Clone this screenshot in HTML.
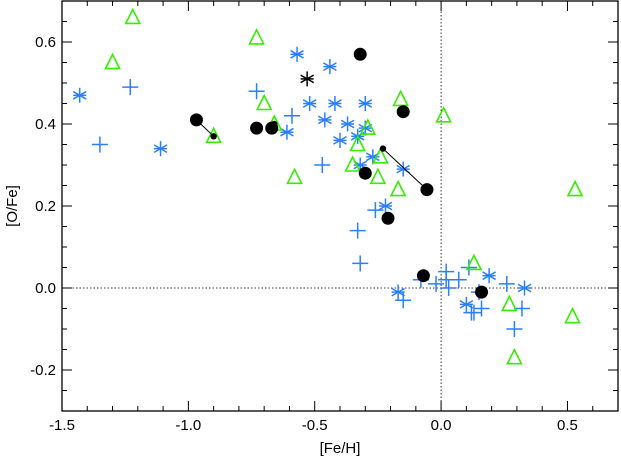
<!DOCTYPE html>
<html><head><meta charset="utf-8"><style>
body{margin:0;background:#fff}
svg text{font-family:"Liberation Sans",sans-serif;font-size:15px;fill:#000}
</style></head><body>
<svg id="chart" width="621" height="458" xmlns="http://www.w3.org/2000/svg"></svg>
<script>
const circlesX=[-0.968,-0.73,-0.67,-0.32,-0.15,-0.30,-0.056,-0.21,-0.07,0.16];
const circlesY=[0.41,0.39,0.39,0.57,0.43,0.28,0.24,0.17,0.03,-0.01];
const dotsX=[-0.90,-0.66,-0.23];
const dotsY=[0.37,0.40,0.34];
const linksFrom=[[-0.968,0.41],[-0.23,0.34]];
const linksTo=[[-0.90,0.37],[-0.056,0.24]];
const blackStarX=[-0.53];
const blackStarY=[0.51];
const triX=[-1.22,-1.30,-0.90,-0.73,-0.70,-0.66,-0.58,-0.35,-0.33,-0.29,-0.25,-0.24,-0.16,-0.17,0.01,0.13,0.27,0.29,0.52,0.53];
const triY=[0.66,0.55,0.37,0.61,0.45,0.40,0.27,0.30,0.35,0.39,0.27,0.32,0.46,0.24,0.42,0.06,-0.04,-0.17,-0.07,0.24];
const starX=[-1.43,-1.11,-0.57,-0.52,-0.44,-0.61,-0.46,-0.42,-0.40,-0.37,-0.33,-0.30,-0.30,-0.32,-0.27,-0.15,-0.22,-0.17,0.10,0.19,0.33];
const starY=[0.47,0.34,0.57,0.45,0.54,0.38,0.41,0.45,0.36,0.40,0.37,0.45,0.39,0.30,0.32,0.29,0.20,-0.01,-0.04,0.03,0.0];
const plusX=[-1.23,-1.35,-0.73,-0.59,-0.47,-0.33,-0.32,-0.26,-0.15,-0.08,-0.02,0.02,0.02,0.03,0.07,0.11,0.12,0.13,0.16,0.15,0.26,0.32,0.29];
const plusY=[0.49,0.35,0.48,0.42,0.30,0.14,0.06,0.19,-0.03,0.02,0.01,0.04,0.02,0.00,0.02,0.05,-0.06,-0.06,-0.05,-0.01,0.01,-0.05,-0.10];
const xTicks=[-1.5,-1.0,-0.5,0.0,0.5];
const xTickLabels=["-1.5","-1.0","-0.5","0.0","0.5"];
const yTicks=[-0.2,0.0,0.2,0.4,0.6];
const yTickLabels=["-0.2","0.0","0.2","0.4","0.6"];

const L=62,R=618,T=1,B=411,X0=-1.5,X1=0.7,Y0=-0.3,Y1=0.7;
const sx=v=>L+(v-X0)/(X1-X0)*(R-L);
const sy=v=>B-(v-Y0)/(Y1-Y0)*(B-T);
const svg=document.getElementById('chart');
const NS='http://www.w3.org/2000/svg';
function mk(tag,attrs,parent){const e=document.createElementNS(NS,tag);for(const k in attrs)e.setAttribute(k,attrs[k]);(parent||svg).appendChild(e);return e;}

// zero lines
let e=mk('line',{x1:sx(0),x2:sx(0),y1:T,y2:B,stroke:'#000','stroke-width':0.8,'stroke-dasharray':'1.5,2'});


e=mk('line',{x1:L,x2:R,y1:sy(0),y2:sy(0),stroke:'#000','stroke-width':0.8,'stroke-dasharray':'1.5,2'});



// frame
e=mk('rect',{x:L,y:T,width:R-L,height:B-T,fill:'none',stroke:'#000','stroke-width':1.3});



// ticks
for(let i=0;i<=22;i++){const v=X0+i*0.1;const x=sx(v);const major=Math.abs(Math.round(v*2)-v*2)<1e-6;const len=major?10:5;
mk('line',{x1:x,x2:x,y1:B,y2:B-len,stroke:'#000','stroke-width':1});mk('line',{x1:x,x2:x,y1:T,y2:T+len,stroke:'#000','stroke-width':1});}
for(let i=0;i<=20;i++){const v=Y0+i*0.05;const y=sy(v);const major=Math.abs(Math.round(v*5)-v*5)<1e-6;const len=major?10:5;
mk('line',{x1:L,x2:L+len,y1:y,y2:y,stroke:'#000','stroke-width':1});mk('line',{x1:R,x2:R-len,y1:y,y2:y,stroke:'#000','stroke-width':1});}
xTicks.forEach((v,i)=>{const t=mk('text',{x:sx(v),y:430,'text-anchor':'middle'});t.textContent=xTickLabels[i];

});
yTicks.forEach((v,i)=>{const t=mk('text',{x:56,y:sy(v)+5,'text-anchor':'end'});t.textContent=yTickLabels[i];

});
let t=mk('text',{x:340,y:453,'text-anchor':'middle'});t.textContent='[Fe/H]';


t=mk('text',{x:0,y:0,'text-anchor':'middle',transform:'translate(17,206) rotate(-90)'});t.textContent='[O/Fe]';



const blue='#2a7fff',green='#33ee00';
function star(x,y,col,name){const g=mk('g',{stroke:col,'stroke-width':1.5});


const r=7.5;for(let k=0;k<3;k++){const a=Math.PI/2+k*Math.PI/3;mk('line',{x1:x-r*Math.cos(a),y1:y-r*Math.sin(a),x2:x+r*Math.cos(a),y2:y+r*Math.sin(a)},g);}
mk('line',{x1:x-6.5,x2:x+6.5,y1:y,y2:y},g);}
function plus(x,y){const g=mk('g',{stroke:blue,'stroke-width':1.5});


mk('line',{x1:x-8,x2:x+8,y1:y,y2:y},g);mk('line',{x1:x,x2:x,y1:y-8,y2:y+8},g);}

plusX.forEach((v,i)=>plus(sx(v),sy(plusY[i])));
starX.forEach((v,i)=>star(sx(v),sy(starY[i]),blue,'asterisk-point'));
triX.forEach((v,i)=>{const x=sx(v),y=sy(triY[i]);const p=mk('polygon',{points:`${x},${y-8} ${x-7},${y+6} ${x+7},${y+6}`,fill:'none',stroke:green,'stroke-width':1.6});

});
linksFrom.forEach((a,i)=>{const l=mk('line',{x1:sx(a[0]),y1:sy(a[1]),x2:sx(linksTo[i][0]),y2:sy(linksTo[i][1]),stroke:'#000','stroke-width':1});

});
circlesX.forEach((v,i)=>{const c=mk('circle',{cx:sx(v),cy:sy(circlesY[i]),r:6.5,fill:'#000'});

});
dotsX.forEach((v,i)=>{const c=mk('circle',{cx:sx(v),cy:sy(dotsY[i]),r:3.2,fill:'#000'});

});
blackStarX.forEach((v,i)=>star(sx(v),sy(blackStarY[i]),'#000','black-asterisk'));
</script>
</body></html>
